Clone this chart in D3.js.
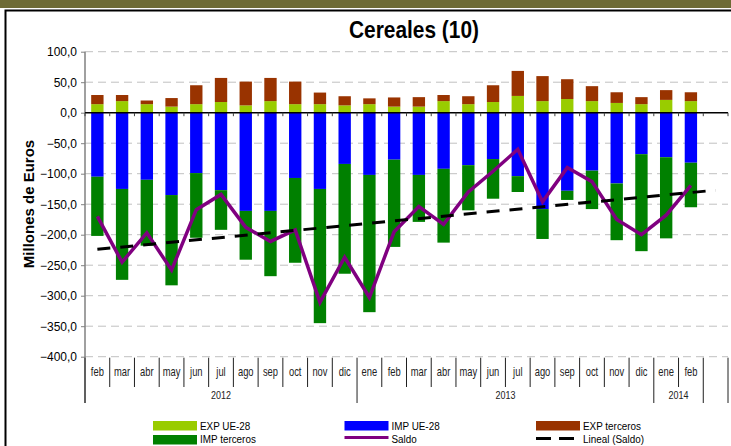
<!DOCTYPE html>
<html>
<head>
<meta charset="utf-8">
<script src="https://cdn.jsdelivr.net/npm/d3@7"></script>
<style>
  body { margin: 0; background: #fff; }
  svg { display: block; }
</style>
</head>
<body>
<script>
// Monthly cereal trade (millions of euros), Feb 2012 – Feb 2014
const months = ["feb","mar","abr","may","jun","jul","ago","sep","oct","nov","dic",
                "ene","feb","mar","abr","may","jun","jul","ago","sep","oct","nov","dic",
                "ene","feb"];
const years = ["2012", "2013", "2014"];
const yearSpans = [11, 12, 2];

const expUE       = [14, 19, 14, 10, 14, 17.5, 12, 19, 14, 14, 12, 14, 10, 10, 19, 14, 17.5, 27.5, 19, 22.4, 19, 16, 14, 21, 19];
const expTerceros = [15, 10, 6, 14, 31, 39.5, 39, 38, 37, 19, 15, 9.5, 15, 15.5, 10, 13, 27.5, 41, 41, 32.5, 24.5, 17.5, 11.5, 16, 14.5];
const impUE       = [-105, -125, -110, -135, -99, -127, -161, -161, -107, -125, -84, -102, -77, -102, -92, -86, -76, -104, -158, -128, -95, -116, -68, -73, -82];
const impTerceros = [-97, -149, -108, -148, -106, -65, -80, -107, -139, -220, -180, -225, -143, -77, -121, -74, -65, -26, -49, -15, -63, -93, -159, -133, -73];
const saldo       = [-170, -245, -197, -258, -159, -134, -188, -211, -192, -311, -237, -303, -195, -154, -183, -130, -96, -60, -146, -90, -113, -175, -200, -168, -119];
// Linear trend of the balance: value at first slot and at the trailing slot
const linealSlots  = [0, 25];
const linealValues = [-224, -127];

const yTicks = [100, 50, 0, -50, -100, -150, -200, -250, -300, -350, -400];

const colors = {
  expUE: "#99CC00", expTer: "#993300", impUE: "#0000FF", impTer: "#008000",
  saldo: "#800080", lineal: "#000000"
};

const W = 731, H = 446;
const left = 85, right = 728, yTop = 51.7, yBot = 356.7;
const sans = "'Liberation Sans', Arial, sans-serif";

const svg = d3.select("body").append("svg").attr("width", W).attr("height", H);

// Condensed text: regular sans squeezed horizontally
function narrowText(parent, x, y, str, size, opts = {}) {
  const g = parent.append("g").attr("transform", `translate(${x},${y}) scale(${opts.sx || 0.84},1)`);
  return g.append("text")
    .attr("text-anchor", opts.anchor || "start")
    .attr("font-family", sans).attr("font-size", size)
    .attr("font-weight", opts.weight || "normal")
    .attr("fill", opts.fill || "#000")
    .text(str);
}

// Frame and heading band
svg.append("rect").attr("x", 0).attr("y", 0).attr("width", W).attr("height", 8).attr("fill", "#6E6B36");
svg.append("path").attr("d", `M5.5,${H + 5} V10.5 H${W + 5}`)
  .attr("fill", "none").attr("stroke", "#000").attr("stroke-width", 2);

// Slots: all months plus one empty slot at the end
const slots = d3.range(months.length + 1);
const x = d3.scaleBand().domain(slots).range([left, right]).paddingInner(0.5).paddingOuter(0.25);
const step = x.step();
const slotStart = i => left + i * step;
const slotCenter = i => x(i) + x.bandwidth() / 2;

const y = d3.scaleLinear().domain([-400, 100]).range([yBot, yTop]);
const fmt = d3.formatLocale({ decimal: ",", thousands: ".", grouping: [3], currency: ["", "€"] }).format(".1f");

// Gridlines
svg.append("g").selectAll("line").data(yTicks.filter(v => v !== 0)).join("line")
  .attr("x1", left).attr("x2", right)
  .attr("y1", d => y(d)).attr("y2", d => y(d))
  .attr("stroke", "#C0C0C0").attr("stroke-width", 1).attr("stroke-dasharray", "8,5");

// Y axis
const yAxis = svg.append("g").attr("transform", `translate(${left},0)`)
  .call(d3.axisLeft(y).tickValues(yTicks).tickFormat(fmt).tickSize(4).tickPadding(4));
yAxis.select(".domain").remove();
yAxis.selectAll(".tick line").attr("stroke", "#808080");
yAxis.selectAll(".tick text").attr("font-family", sans).attr("font-size", 12).attr("fill", "#000");
svg.append("line").attr("x1", left).attr("x2", left).attr("y1", yTop).attr("y2", 403)
  .attr("stroke", "#808080").attr("stroke-width", 1.5);

// Stacked bars
const bars = svg.append("g");
const idx = d3.range(months.length);
const bw = x.bandwidth();
bars.selectAll(".eue").data(idx).join("rect")
  .attr("x", i => x(i)).attr("width", bw)
  .attr("y", i => y(expUE[i])).attr("height", i => y(0) - y(expUE[i]))
  .attr("fill", colors.expUE);
bars.selectAll(".eter").data(idx).join("rect")
  .attr("x", i => x(i)).attr("width", bw)
  .attr("y", i => y(expUE[i] + expTerceros[i])).attr("height", i => y(expUE[i]) - y(expUE[i] + expTerceros[i]))
  .attr("fill", colors.expTer);
bars.selectAll(".iue").data(idx).join("rect")
  .attr("x", i => x(i)).attr("width", bw)
  .attr("y", y(0)).attr("height", i => y(impUE[i]) - y(0))
  .attr("fill", colors.impUE);
bars.selectAll(".iter").data(idx).join("rect")
  .attr("x", i => x(i)).attr("width", bw)
  .attr("y", i => y(impUE[i])).attr("height", i => y(impUE[i] + impTerceros[i]) - y(impUE[i]))
  .attr("fill", colors.impTer);

// Zero axis with small tick marks at slot boundaries
svg.append("line").attr("x1", left).attr("x2", right).attr("y1", y(0)).attr("y2", y(0))
  .attr("stroke", "#000").attr("stroke-width", 1.5);
svg.append("g").selectAll("line").data(d3.range(slots.length + 1)).join("line")
  .attr("x1", i => slotStart(i)).attr("x2", i => slotStart(i))
  .attr("y1", y(0)).attr("y2", y(0) + 3.5)
  .attr("stroke", "#404040").attr("stroke-width", 1);

// Balance line
const line = d3.line().x(i => slotCenter(i)).y(i => y(saldo[i]));
svg.append("path").datum(idx).attr("d", line)
  .attr("fill", "none").attr("stroke", colors.saldo).attr("stroke-width", 3.5).attr("stroke-linejoin", "miter");

// Linear trend
svg.append("line")
  .attr("x1", slotCenter(linealSlots[0])).attr("y1", y(linealValues[0]))
  .attr("x2", slotCenter(linealSlots[1])).attr("y2", y(linealValues[1]))
  .attr("stroke", colors.lineal).attr("stroke-width", 3).attr("stroke-dasharray", "13,10");

// Category axis: months and years
const cat = svg.append("g");
idx.forEach(i => narrowText(cat, slotStart(i) + step / 2, 376, months[i], 12, { anchor: "middle", fill: "#222", sx: 0.78 }));
const yearStarts = [0];
yearSpans.forEach(n => yearStarts.push(yearStarts[yearStarts.length - 1] + n));
const longBounds = yearStarts.concat([slots.length]);
cat.selectAll("line.d").data(d3.range(slots.length + 1)).join("line")
  .attr("x1", i => slotStart(i)).attr("x2", i => slotStart(i))
  .attr("y1", yBot + 1).attr("y2", i => longBounds.includes(i) ? 403 : 387)
  .attr("stroke", "#202020").attr("stroke-width", 1);
years.forEach((yr, k) => narrowText(cat, slotStart(yearStarts[k]) + yearSpans[k] * step / 2, 399, yr, 11.5,
  { anchor: "middle", fill: "#222", sx: 0.78 }));

// Titles
narrowText(svg, 414, 38, "Cereales (10)", 24, { anchor: "middle", weight: "bold", sx: 0.87 });
svg.append("text").attr("transform", "translate(33.5,204) rotate(-90)").attr("text-anchor", "middle")
  .attr("font-family", sans).attr("font-weight", "bold").attr("font-size", 15)
  .text("Millones de Euros");

// Legend
const legendItems = [
  { label: "EXP UE-28", type: "rect", color: colors.expUE, col: 0, row: 0 },
  { label: "IMP UE-28", type: "rect", color: colors.impUE, col: 1, row: 0 },
  { label: "EXP terceros", type: "rect", color: colors.expTer, col: 2, row: 0 },
  { label: "IMP terceros", type: "rect", color: colors.impTer, col: 0, row: 1 },
  { label: "Saldo", type: "line", color: colors.saldo, col: 1, row: 1 },
  { label: "Lineal (Saldo)", type: "dash", color: colors.lineal, col: 2, row: 1 }
];
const colX = [153, 344.5, 536];
const rowY = [425.5, 439.5];
const textBase = [429.5, 443];
const lg = svg.append("g");
legendItems.forEach(d => {
  const gx = colX[d.col], gy = rowY[d.row];
  if (d.type === "rect") {
    lg.append("rect").attr("x", gx).attr("y", gy - 4.5).attr("width", 44).attr("height", 9.5).attr("fill", d.color);
  } else if (d.type === "line") {
    lg.append("line").attr("x1", gx).attr("x2", gx + 44).attr("y1", gy - 2).attr("y2", gy - 2)
      .attr("stroke", d.color).attr("stroke-width", 3);
  } else {
    lg.append("line").attr("x1", gx).attr("x2", gx + 44).attr("y1", gy - 1).attr("y2", gy - 1)
      .attr("stroke", d.color).attr("stroke-width", 3).attr("stroke-dasharray", "15,8");
  }
  narrowText(lg, gx + 47, textBase[d.row], d.label, 11.5, { sx: 0.86 });
});
</script>
</body>
</html>
